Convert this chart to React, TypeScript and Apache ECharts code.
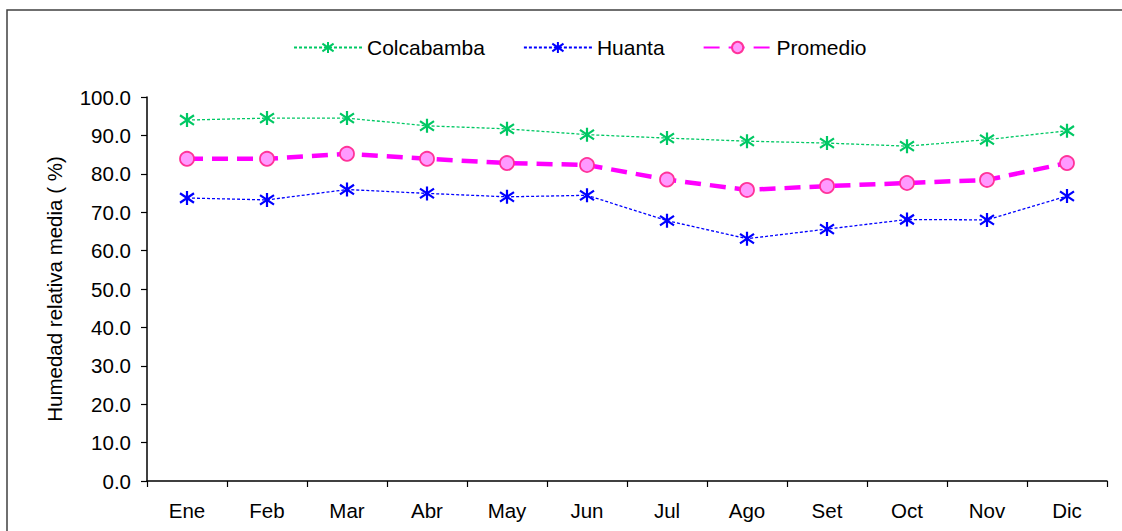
import React, { useEffect, useRef } from "react";
import * as echarts from "echarts";

const months = ["Ene", "Feb", "Mar", "Abr", "May", "Jun", "Jul", "Ago", "Set", "Oct", "Nov", "Dic"];
const colcabamba = [94.0, 94.5, 94.5, 92.5, 91.7, 90.2, 89.3, 88.5, 88.0, 87.2, 88.9, 91.2];
const huanta = [73.7, 73.2, 75.9, 74.9, 74.0, 74.4, 67.8, 63.1, 65.6, 68.1, 68.0, 74.2];
const promedio = [83.9, 83.9, 85.2, 83.9, 82.8, 82.3, 78.5, 75.8, 76.8, 77.6, 78.4, 82.8];
const yTicks = { min: 0, max: 100, interval: 10 };

const FONT = "'Liberation Sans', Arial, sans-serif";
const STAR = "path://M5,0 L5,10 M0.8,1.6 L9.2,8.4 M0.8,8.4 L9.2,1.6";

export default function App() {
  const ref = useRef<HTMLDivElement>(null);
  useEffect(() => {
    if (!ref.current) return;
    const chart = echarts.init(ref.current, undefined, { renderer: "svg" });
    chart.setOption({
      animation: false,
      backgroundColor: "#ffffff",
      textStyle: { fontFamily: FONT },
      graphic: [
        {
          type: "rect",
          shape: { x: 7, y: 10, width: 1130, height: 540 },
          style: { fill: "none", stroke: "#404040", lineWidth: 1.5 },
          silent: true,
        },
      ],
      legend: {
        left: 288,
        top: 32,
        itemWidth: 68,
        itemHeight: 14,
        itemGap: 38,
        textStyle: { fontSize: 21, color: "#000", fontFamily: FONT },
        data: ["Colcabamba", "Huanta", "Promedio"],
      },
      grid: { left: 147, right: 15, top: 97, bottom: 50, containLabel: false },
      xAxis: {
        type: "category",
        data: months,
        boundaryGap: true,
        axisLine: { lineStyle: { color: "#000", width: 1.5 } },
        axisTick: { show: true, length: 6, lineStyle: { color: "#000", width: 1.2 } },
        axisLabel: { color: "#000", fontSize: 20.5, margin: 19, fontFamily: FONT },
      },
      yAxis: {
        type: "value",
        min: yTicks.min,
        max: yTicks.max,
        interval: yTicks.interval,
        name: "Humedad relativa media ( %)",
        nameLocation: "middle",
        nameGap: 82,
        nameRotate: 90,
        nameTextStyle: { fontSize: 20.5, color: "#000", fontFamily: FONT },
        axisLine: { show: true, lineStyle: { color: "#000", width: 1.5 } },
        axisTick: { show: true, length: 6, lineStyle: { color: "#000", width: 1.2 } },
        axisLabel: {
          color: "#000",
          fontSize: 20.5,
          margin: 16,
          fontFamily: FONT,
          formatter: (v: number) => v.toFixed(1),
        },
        splitLine: { show: false },
      },
      series: [
        {
          name: "Colcabamba",
          type: "line",
          data: colcabamba,
          symbol: STAR,
          symbolSize: 14,
          lineStyle: { color: "#00C864", width: 1.3, type: [3, 2] },
          itemStyle: { color: "#00C864", borderColor: "#00C864", borderWidth: 2.2 },
        },
        {
          name: "Huanta",
          type: "line",
          data: huanta,
          symbol: STAR,
          symbolSize: 14,
          lineStyle: { color: "#0000FF", width: 1.3, type: [3, 2] },
          itemStyle: { color: "#0000FF", borderColor: "#0000FF", borderWidth: 2.2 },
        },
        {
          name: "Promedio",
          type: "line",
          data: promedio,
          symbol: "circle",
          symbolSize: 14,
          z: 3,
          lineStyle: { color: "#FF00FF", width: 4.5, type: [16, 9] },
          itemStyle: { color: "#FF99FF", borderColor: "#FF3399", borderWidth: 1.8 },
        },
      ],
    });
    return () => chart.dispose();
  }, []);
  return <div ref={ref} style={{ width: 1122, height: 531, position: "absolute", left: 0, top: 0 }} />;
}
